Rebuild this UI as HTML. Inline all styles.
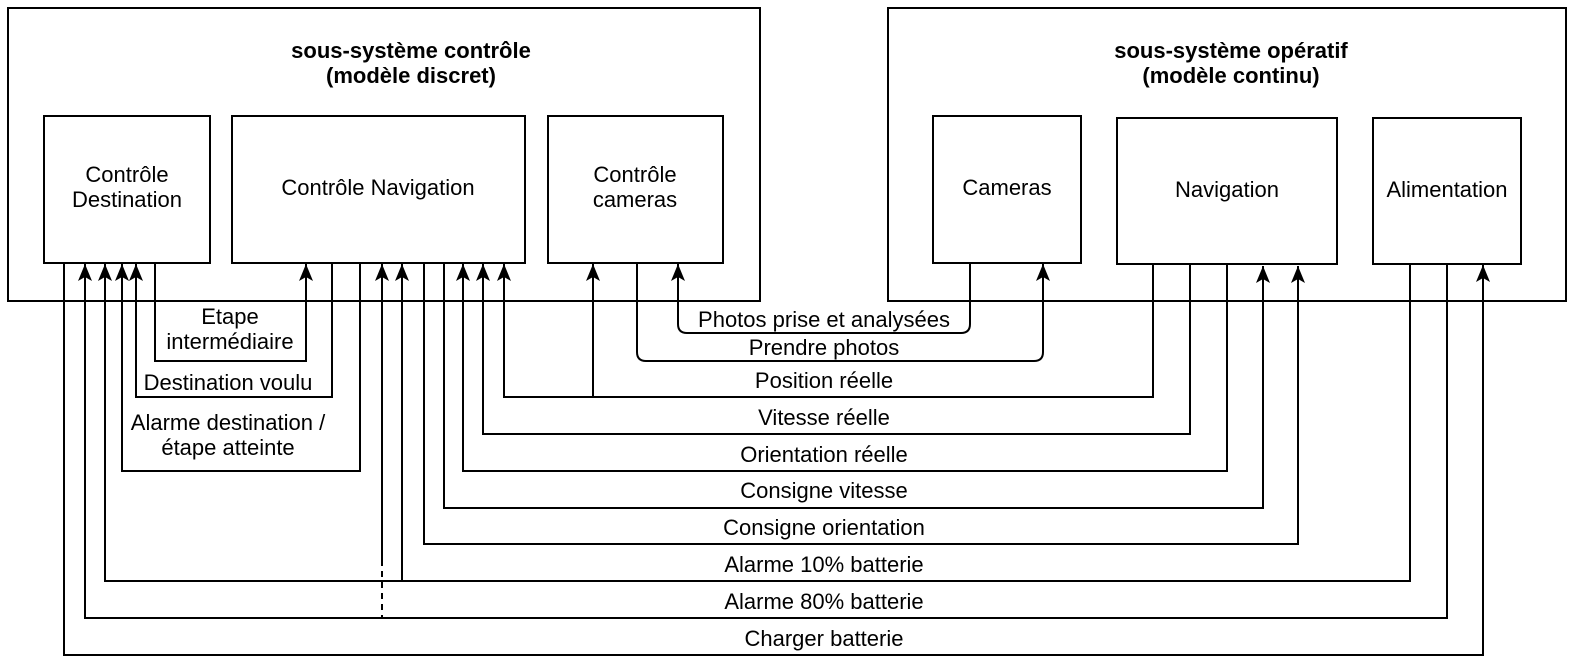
<!DOCTYPE html>
<html><head><meta charset="utf-8"><style>
html,body{margin:0;padding:0;background:#fff;}
svg{display:block;}
text{font-family:"Liberation Sans",sans-serif;font-size:22px;fill:#000;}
.b{font-weight:bold;}
</style></head><body>
<svg width="1575" height="665" viewBox="0 0 1575 665" xmlns="http://www.w3.org/2000/svg">
<defs>
<marker id="a" markerWidth="16" markerHeight="18" refX="8" refY="1" orient="0" markerUnits="userSpaceOnUse">
<path d="M8,1 L15,18 L8,14 L1,18 Z" fill="#000"/>
</marker>
</defs>
<g fill="none" stroke="#000" stroke-width="2">
<rect x="8" y="8" width="752" height="293"/>
<rect x="888" y="8" width="678" height="293"/>
<rect x="44" y="116" width="166" height="147"/>
<rect x="232" y="116" width="293" height="147"/>
<rect x="548" y="116" width="175" height="147"/>
<rect x="933" y="116" width="148" height="147"/>
<rect x="1117" y="118" width="220" height="146"/>
<rect x="1373" y="118" width="148" height="146"/>
</g>
<g fill="none" stroke="#000" stroke-width="2" stroke-linejoin="miter">
<path d="M64,263 V655 H1483 V265" marker-end="url(#a)"/>
<path d="M1447,264 V618 H85 V264" marker-end="url(#a)"/>
<path d="M1410,264 V581 H105 V264" marker-end="url(#a)"/>
<path d="M402,581 V264" marker-end="url(#a)"/>
<path d="M382,560 V264" marker-end="url(#a)"/>
<path d="M382,560 V618" stroke-dasharray="6,5"/>
<path d="M360,263 V471 H122 V264" marker-end="url(#a)"/>
<path d="M332,263 V397 H136 V264" marker-end="url(#a)"/>
<path d="M155,263 V361 H306 V264" marker-end="url(#a)"/>
<path d="M424,263 V544 H1298 V266" marker-end="url(#a)"/>
<path d="M444,263 V508 H1263 V266" marker-end="url(#a)"/>
<path d="M1227,264 V471 H463 V264" marker-end="url(#a)"/>
<path d="M1190,264 V434 H483 V264" marker-end="url(#a)"/>
<path d="M1153,264 V397 H504 V264" marker-end="url(#a)"/>
<path d="M593,397 V264" marker-end="url(#a)"/>
<path d="M637,263 V352 Q637,361 646,361 H1034 Q1043,361 1043,352 V264" marker-end="url(#a)"/>
<path d="M970,263 V324 Q970,333 961,333 H687 Q678,333 678,324 V264" marker-end="url(#a)"/>
</g>
<g text-anchor="middle">
<text class="b" x="411" y="58">sous-système contrôle</text>
<text class="b" x="411" y="83">(modèle discret)</text>
<text class="b" x="1231" y="58">sous-système opératif</text>
<text class="b" x="1231" y="83">(modèle continu)</text>
<text x="127" y="182">Contrôle</text>
<text x="127" y="207">Destination</text>
<text x="378" y="195">Contrôle Navigation</text>
<text x="635" y="182">Contrôle</text>
<text x="635" y="207">cameras</text>
<text x="1007" y="195">Cameras</text>
<text x="1227" y="197">Navigation</text>
<text x="1447" y="197">Alimentation</text>
<text x="230" y="324">Etape</text>
<text x="230" y="349">intermédiaire</text>
<text x="228" y="390">Destination voulu</text>
<text x="228" y="430">Alarme destination /</text>
<text x="228" y="455">étape atteinte</text>
<text x="824" y="327">Photos prise et analysées</text>
<text x="824" y="355">Prendre photos</text>
<text x="824" y="388">Position réelle</text>
<text x="824" y="425">Vitesse réelle</text>
<text x="824" y="462">Orientation réelle</text>
<text x="824" y="498">Consigne vitesse</text>
<text x="824" y="535">Consigne orientation</text>
<text x="824" y="572">Alarme 10% batterie</text>
<text x="824" y="609">Alarme 80% batterie</text>
<text x="824" y="646">Charger batterie</text>
</g>
</svg>
</body></html>
